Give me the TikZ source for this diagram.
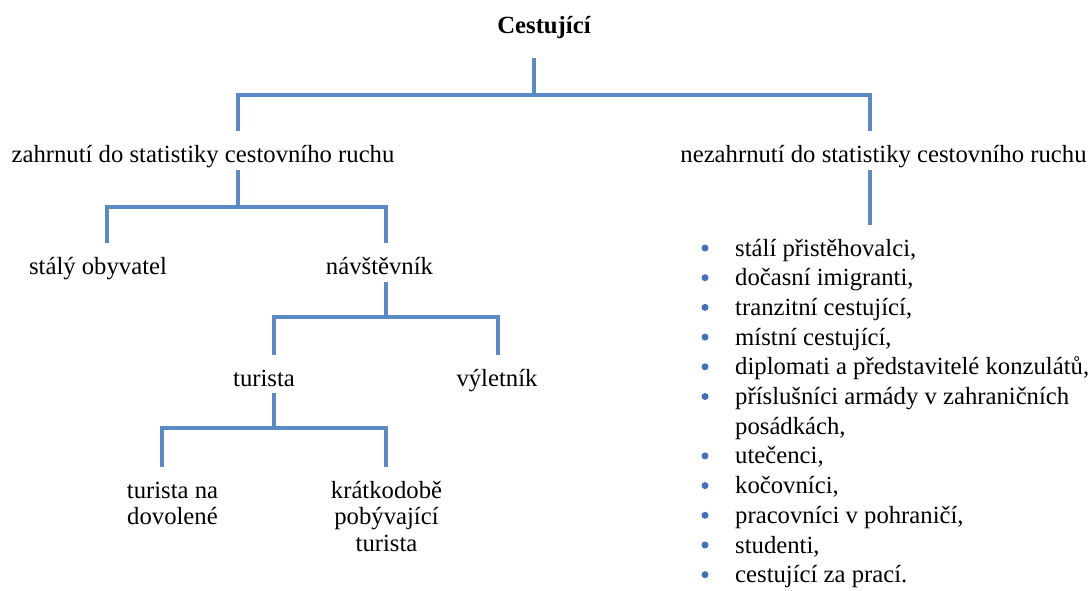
\documentclass[tikz,border=0pt]{standalone}
\usepackage{fontspec}
\setmainfont{Liberation Serif}
\definecolor{lineblue}{HTML}{5A8AC6}
\definecolor{dotblue}{HTML}{3F72B8}
\begin{document}
\begin{tikzpicture}[x=1pt,y=-1pt,
  conn/.style={draw=lineblue, line width=4pt, line join=miter},
  lbl/.style={inner sep=0pt, anchor=base, font=\fontsize{24.7}{28}\selectfont},
  item/.style={lbl, anchor=base west},
  bul/.style={circle, fill=dotblue, inner sep=0pt, minimum size=7pt}
]
\useasboundingbox (0,0) rectangle (1092,591);

% nodes
\node[lbl, font=\fontsize{24.7}{28}\selectfont\bfseries] (root) at (544,34) {Cestující};
\node[lbl] (zah) at (203,162) {zahrnutí do statistiky cestovního ruchu};
\node[lbl] (nez) at (883.5,162) {nezahrnutí do statistiky cestovního ruchu};
\node[lbl] (sob) at (98,274) {stálý obyvatel};
\node[lbl] (nav) at (379.5,274) {návštěvník};
\node[lbl] (tur) at (264,386) {turista};
\node[lbl] (vyl) at (497,386) {výletník};
\node[lbl] (tnd) at (172.5,498) {turista na};
\node[lbl] (tnd2) at (172.5,524.5) {dovolené};
\node[lbl] (kpt) at (386.5,498) {krátkodobě};
\node[lbl] (kpt2) at (386.5,524.5) {pobývající};
\node[lbl] (kpt3) at (386.5,551) {turista};

% list
\foreach \i/\t in {0/{stálí přistěhovalci,},1/{dočasní imigranti,},2/{tranzitní cestující,},3/{místní cestující,},4/{diplomati a představitelé konzulátů,},5/{příslušníci armády v zahraničních},7/{utečenci,},8/{kočovníci,},9/{pracovníci v pohraničí,},10/{studenti,},11/{cestující za prací.}}{
  \node[item] (li\i) at (735,256+29.7*\i) {\t};
  \node[bul] (b\i) at (705,248+29.7*\i) {};
}
\node[item] (li6) at (735,256+29.7*6) {posádkách,};

% junction coordinates
\coordinate (r0t) at (534,58);
\coordinate (k0) at (534,95);
\coordinate (zt) at (238,131);
\coordinate (nt) at (870,131);
\coordinate (zb) at (238,170);
\coordinate (k1) at (238,207);
\coordinate (sot) at (107,243);
\coordinate (nvt) at (386,243);
\coordinate (nvb) at (386,282);
\coordinate (k2) at (386,317);
\coordinate (tut) at (274,355);
\coordinate (vyt) at (498,355);
\coordinate (tub) at (274,393);
\coordinate (k3) at (274,428);
\coordinate (tdt) at (162,467);
\coordinate (ktt) at (386,467);
\coordinate (nzb) at (870,170);
\coordinate (lst) at (870,225);

% connectors
\draw[conn] (r0t) -- (k0);
\draw[conn] (zt) |- (k0) -| (nt);
\draw[conn] (zb) -- (k1);
\draw[conn] (sot) |- (k1) -| (nvt);
\draw[conn] (nvb) -- (k2);
\draw[conn] (tut) |- (k2) -| (vyt);
\draw[conn] (tub) -- (k3);
\draw[conn] (tdt) |- (k3) -| (ktt);
\draw[conn] (nzb) -- (lst);
\end{tikzpicture}
\end{document}
